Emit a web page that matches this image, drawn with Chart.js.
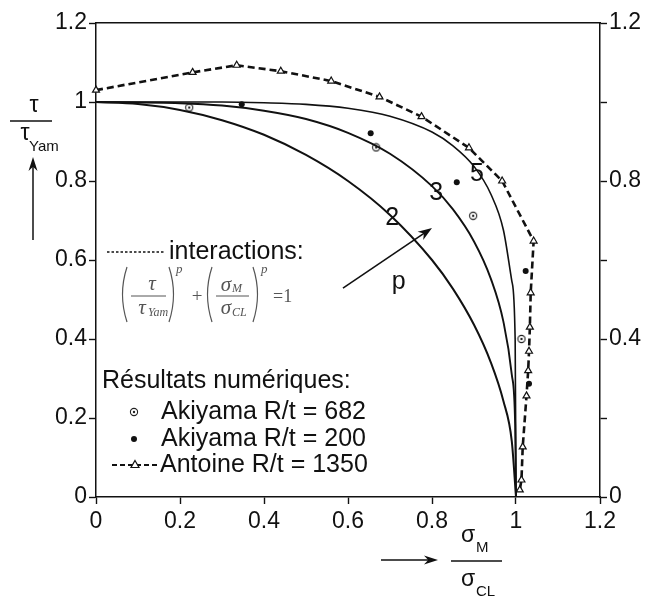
<!DOCTYPE html>
<html><head><meta charset="utf-8">
<script src="https://cdn.jsdelivr.net/npm/chart.js@4/dist/chart.umd.min.js"></script>
<style>html,body{margin:0;padding:0;background:#fff;overflow:hidden}canvas{display:block}</style>
</head><body>
<canvas id="c" width="648" height="599"></canvas>
<script>
// ---- tick labels ----
const xTickLabels = ['0','0.2','0.4','0.6','0.8','1','1.2'];
const yLeftTickLabels = ['0','0.2','0.4','0.6','0.8','1','1.2'];
const yRightTickLabels = ['0','','0.4','','0.8','','1.2'];

// ---- interaction curves ----
const curveP2X = [0, 0.1, 0.2, 0.3, 0.4, 0.5, 0.6, 0.7, 0.8, 0.85, 0.9, 0.94, 0.97, 0.99, 1.0];
const curveP2Y = [1, 0.995, 0.98, 0.954, 0.917, 0.866, 0.8, 0.714, 0.6, 0.527, 0.436, 0.341, 0.243, 0.141, 0];
const curveP3X = [0, 0.2, 0.3, 0.4, 0.5, 0.6, 0.7, 0.8, 0.85, 0.9, 0.94, 0.97, 0.99, 0.998, 1.0];
const curveP3Y = [1, 0.997, 0.991, 0.978, 0.957, 0.922, 0.869, 0.787, 0.728, 0.647, 0.553, 0.444, 0.310, 0.182, 0];
const curveP5X = [0, 0.3, 0.4, 0.5, 0.6, 0.7, 0.8, 0.85, 0.9, 0.94, 0.97, 0.99, 0.998, 1.0];
const curveP5Y = [1, 1.0, 0.998, 0.994, 0.984, 0.964, 0.924, 0.889, 0.837, 0.767, 0.676, 0.547, 0.398, 0];

// ---- numerical results ----
const akiyama682X = [0.222, 0.667, 0.898, 1.013];
const akiyama682Y = [0.986, 0.885, 0.712, 0.400];
const akiyama200X = [0.347, 0.654, 0.859, 1.023, 1.031];
const akiyama200Y = [0.994, 0.921, 0.797, 0.572, 0.287];
const antoineX = [0, 0.23, 0.335, 0.44, 0.56, 0.675, 0.775, 0.888, 0.967, 1.042, 1.035, 1.033, 1.031, 1.029, 1.025, 1.016, 1.013, 1.009];
const antoineY = [1.03, 1.075, 1.093, 1.078, 1.053, 1.013, 0.963, 0.884, 0.80, 0.648, 0.517, 0.43, 0.369, 0.32, 0.256, 0.127, 0.043, 0.018];

// ---- curve labels (data coordinates) ----
const curveLabels = ['2', '3', '5'];
const curveLabelX = [0.705, 0.81, 0.907];
const curveLabelY = [0.706, 0.770, 0.818];

const zip = (xs, ys) => xs.map((x, i) => ({x, y: ys[i]}));
const SANS = '"Liberation Sans", Arial, Helvetica, sans-serif';
const SERIF = '"Liberation Serif", "Times New Roman", serif';
const INK = '#111';

function circDot() {
  const c = document.createElement('canvas'); c.width = 10; c.height = 10;
  const g = c.getContext('2d');
  g.beginPath(); g.arc(5, 5, 3.6, 0, Math.PI * 2); g.fillStyle = '#fff'; g.fill();
  g.lineWidth = 1.1; g.strokeStyle = '#222'; g.stroke();
  g.beginPath(); g.arc(5, 5, 1.2, 0, Math.PI * 2); g.fillStyle = '#222'; g.fill();
  return c;
}
const circDotImg = circDot();

function arrow(g, x1, y1, x2, y2, head, hw) {
  const a = Math.atan2(y2 - y1, x2 - x1);
  g.beginPath(); g.moveTo(x1, y1); g.lineTo(x2 - head * 0.6 * Math.cos(a), y2 - head * 0.6 * Math.sin(a)); g.stroke();
  g.beginPath(); g.moveTo(x2, y2);
  g.lineTo(x2 - head * Math.cos(a) + hw * Math.sin(a), y2 - head * Math.sin(a) - hw * Math.cos(a));
  g.lineTo(x2 - head * 0.7 * Math.cos(a), y2 - head * 0.7 * Math.sin(a));
  g.lineTo(x2 - head * Math.cos(a) - hw * Math.sin(a), y2 - head * Math.sin(a) + hw * Math.cos(a));
  g.closePath(); g.fill();
}
function seg(g, x1, y1, x2, y2) { g.beginPath(); g.moveTo(x1, y1); g.lineTo(x2, y2); g.stroke(); }

const annotations = {
  id: 'annotations',
  afterDraw(chart) {
    const g = chart.ctx;
    const xs = chart.scales.x, ys = chart.scales.y;
    const px = v => xs.getPixelForValue(v), py = v => ys.getPixelForValue(v);
    g.save();
    g.fillStyle = INK; g.strokeStyle = INK;

    // curve labels
    g.font = '25px ' + SANS; g.textAlign = 'center'; g.textBaseline = 'middle';
    curveLabels.forEach((t, i) => g.fillText(t, px(curveLabelX[i]), py(curveLabelY[i])));

    // p arrow
    g.lineWidth = 1.6;
    arrow(g, px(0.588), py(0.529), px(0.80), py(0.681), 14, 5);
    g.fillText('p', px(0.721), py(0.545));

    // y axis title
    g.font = '23px ' + SANS;
    g.fillText('τ', 34, 106);
    g.lineWidth = 1.3; seg(g, 10, 121, 52, 121);
    g.fillText('τ', 25, 134);
    g.font = '15px ' + SANS; g.textAlign = 'left';
    g.fillText('Yam', 29, 147);
    g.lineWidth = 1.5;
    arrow(g, 33, 240, 33, 157, 14, 4.5);

    // x axis title
    g.textAlign = 'center'; g.font = '23px ' + SANS;
    g.fillText('σ', 468, 536);
    g.fillText('σ', 468, 580);
    g.font = '15px ' + SANS; g.textAlign = 'left';
    g.fillText('M', 476, 548);
    g.fillText('CL', 476, 592);
    g.lineWidth = 1.3; seg(g, 451, 561, 502, 561);
    g.lineWidth = 1.5;
    arrow(g, 381, 560, 438, 560, 14, 4.5);

    // legend: interactions
    g.lineWidth = 1.3; g.setLineDash([2.5, 2]);
    seg(g, 107, 252, 165, 252);
    g.setLineDash([]);
    g.font = '25px ' + SANS; g.textAlign = 'left'; g.textBaseline = 'middle';
    g.fillText('interactions:', 169, 252);

    // formula
    g.fillStyle = '#555'; g.strokeStyle = '#555'; g.lineWidth = 1.2;
    const paren = (x, y0, y1, dir) => { g.beginPath(); g.moveTo(x, y0); g.quadraticCurveTo(x - dir * 9, (y0 + y1) / 2, x, y1); g.stroke(); };
    paren(127, 267, 322, 1); paren(169, 267, 322, -1);
    paren(212, 267, 322, 1); paren(253, 267, 322, -1);
    g.lineWidth = 1; seg(g, 131, 296, 166, 296); seg(g, 216, 296, 249, 296);
    g.textAlign = 'center';
    g.font = 'italic 21px ' + SERIF;
    g.fillText('τ', 152, 284);
    g.fillText('τ', 142, 308);
    g.fillText('σ', 226, 285);
    g.fillText('σ', 226, 308);
    g.font = 'italic 12px ' + SERIF; g.textAlign = 'left';
    g.fillText('Yam', 148, 313);
    g.fillText('M', 232, 289);
    g.fillText('CL', 232, 313);
    g.font = 'italic 13px ' + SERIF;
    g.fillText('p', 176, 270);
    g.fillText('p', 261, 270);
    g.font = '19px ' + SERIF; g.textAlign = 'center';
    g.fillText('+', 197, 297);
    g.textAlign = 'left'; g.font = '18px ' + SERIF;
    g.fillText('=1', 273, 297);

    // legend: numerical results
    g.fillStyle = INK; g.strokeStyle = INK;
    g.font = '25px ' + SANS; g.textAlign = 'left';
    g.fillText('Résultats numériques:', 102, 381);
    g.drawImage(circDotImg, 134 - 5, 412 - 5);
    g.fillText('Akiyama R/t = 682', 161, 412);
    g.beginPath(); g.arc(134, 439, 3, 0, Math.PI * 2); g.fill();
    g.fillText('Akiyama R/t = 200', 161, 439);
    g.lineWidth = 2.2; g.setLineDash([5, 3]);
    seg(g, 112, 465, 157, 465); g.setLineDash([]);
    g.beginPath(); g.moveTo(135, 460.5); g.lineTo(139, 467.5); g.lineTo(131, 467.5); g.closePath();
    g.fillStyle = '#fff'; g.fill(); g.lineWidth = 1.2; g.stroke();
    g.fillStyle = INK;
    g.fillText('Antoine R/t = 1350', 160, 465);
    g.restore();
  }
};

const tickFont = {family: SANS, size: 23};
const gridOpts = {drawOnChartArea: false, drawTicks: true, tickLength: 7, color: INK, tickWidth: 1.4};
const borderOpts = {display: true, color: INK, width: 1.5};

new Chart(document.getElementById('c'), {
  type: 'scatter',
  data: {
    datasets: [
      {label: 'p = 2', data: zip(curveP2X, curveP2Y), showLine: true, borderColor: INK, borderWidth: 2, pointRadius: 0, cubicInterpolationMode: 'monotone', clip: false},
      {label: 'p = 3', data: zip(curveP3X, curveP3Y), showLine: true, borderColor: INK, borderWidth: 1.9, pointRadius: 0, cubicInterpolationMode: 'monotone', clip: false},
      {label: 'p = 5', data: zip(curveP5X, curveP5Y), showLine: true, borderColor: INK, borderWidth: 1.6, pointRadius: 0, cubicInterpolationMode: 'monotone', clip: false},
      {label: 'Antoine R/t = 1350', data: zip(antoineX, antoineY), showLine: true, borderColor: INK, borderWidth: 2.6, borderDash: [7, 4], tension: 0,
        pointStyle: 'triangle', pointRadius: 4, pointBackgroundColor: '#fff', pointBorderColor: INK, pointBorderWidth: 1.2, clip: false},
      {label: 'Akiyama R/t = 682', data: zip(akiyama682X, akiyama682Y), showLine: false, pointStyle: circDotImg, pointRadius: 4, clip: false},
      {label: 'Akiyama R/t = 200', data: zip(akiyama200X, akiyama200Y), showLine: false, pointStyle: 'circle', pointRadius: 3, pointBackgroundColor: INK, pointBorderColor: INK, pointBorderWidth: 0, clip: false}
    ]
  },
  options: {
    responsive: false, animation: false, devicePixelRatio: 1,
    layout: {padding: {top: 23, left: 0, right: 0, bottom: 0}},
    plugins: {legend: {display: false}, tooltip: {enabled: false}},
    scales: {
      x: {type: 'linear', position: 'bottom', min: 0, max: 1.2,
        ticks: {stepSize: 0.2, color: INK, font: tickFont, padding: 4, maxRotation: 0, autoSkip: false,
          callback: (v, i) => xTickLabels[i]},
        grid: gridOpts, border: borderOpts,
        afterFit: s => { s.height = 102; }},
      xTop: {type: 'linear', position: 'top', min: 0, max: 1.2,
        ticks: {display: false}, grid: {display: false, drawTicks: false}, border: borderOpts,
        afterFit: s => { s.height = 0; }},
      y: {type: 'linear', position: 'left', min: 0, max: 1.2,
        ticks: {stepSize: 0.2, color: INK, font: tickFont, padding: 2, autoSkip: false,
          callback: (v, i) => yLeftTickLabels[i]},
        grid: gridOpts, border: borderOpts,
        afterFit: s => { s.width = 96; }},
      y2: {type: 'linear', position: 'right', min: 0, max: 1.2,
        ticks: {stepSize: 0.2, color: INK, font: tickFont, padding: 2, autoSkip: false,
          callback: (v, i) => yRightTickLabels[i]},
        grid: gridOpts, border: borderOpts,
        afterFit: s => { s.width = 48; }}
    }
  },
  plugins: [annotations]
});
</script>
</body></html>
